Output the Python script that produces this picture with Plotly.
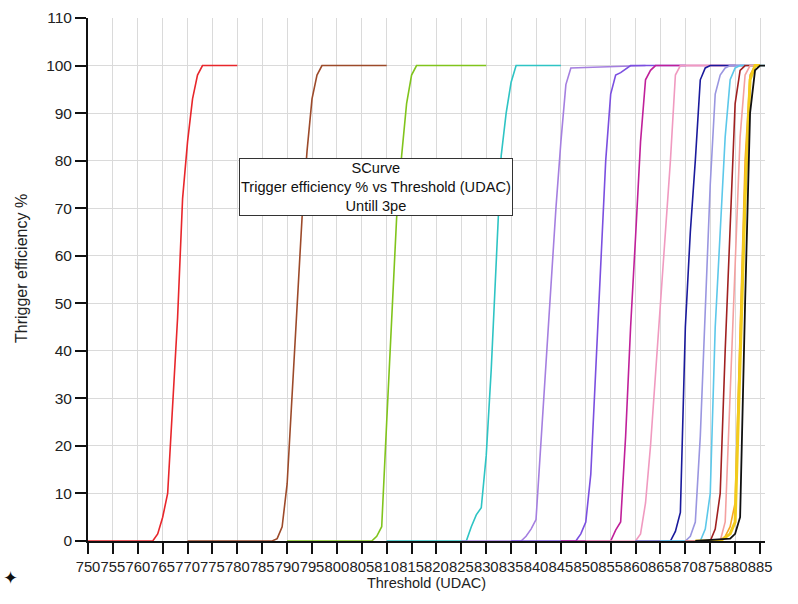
import plotly.graph_objects as go

# ---- data (threshold UDAC, trigger efficiency %) ----
x_red = [750, 763, 764, 765, 766, 767, 768, 769, 770, 771, 772, 773, 780]
y_red = [0, 0, 1.5, 5, 10, 28, 47, 72, 84, 93, 98, 100, 100]

x_brown = [770, 787, 788, 789, 790, 791, 792, 793, 794, 795, 796, 797, 810]
y_brown = [0, 0, 0.5, 3, 12, 30, 50, 68, 82, 93, 98, 100, 100]

x_green = [790, 807, 808, 809, 810, 811, 812, 813, 814, 815, 816, 830]
y_green = [0, 0, 1, 3, 25, 47, 68, 81, 92, 98, 100, 100]

x_cyan = [810, 826, 827, 828, 829, 830, 831, 832, 833, 834, 835, 836, 845]
y_cyan = [0, 0, 3, 5.5, 7, 18, 36, 57, 81, 90, 96.5, 100, 100]

x_lavender = [825, 837, 838, 839, 840, 841, 842, 843, 844, 845, 846, 847, 862]
y_lavender = [0, 0, 1, 2.5, 4.5, 21, 37, 54, 70, 84, 96, 99.5, 100]

x_violet = [835, 848, 849, 850, 851, 852, 853, 854, 855, 856, 857, 858, 859, 870]
y_violet = [0, 0, 1.5, 4, 14, 36, 58, 80, 94, 98, 98.5, 99.3, 100, 100]

x_magenta = [845, 855, 856, 857, 858, 859, 860, 861, 862, 863, 864, 880]
y_magenta = [0, 0, 2.3, 4, 22, 45, 64, 84, 97, 99, 100, 100]

x_pink = [850, 860, 861, 862, 863, 864, 865, 866, 867, 868, 869, 878]
y_pink = [0, 0, 1.5, 8, 20, 35, 49, 64, 80, 98, 100, 100]

x_navy = [860, 867, 868, 869, 870, 871, 872, 873, 874, 875, 882]
y_navy = [0, 0, 2, 6, 45, 65, 80, 97, 99.5, 100, 100]

x_slate = [860, 870, 871, 872, 873, 874, 875, 876, 877, 878, 879, 884]
y_slate = [0, 0, 1, 4, 22, 50, 75, 94, 98, 99.5, 100, 100]

x_sky = [865, 873, 874, 875, 876, 877, 878, 879, 880, 881, 886]
y_sky = [0, 0, 2.5, 10, 45, 65, 85, 97, 99.5, 100, 100]

x_darkred = [870, 875, 876, 877, 878, 879, 880, 881, 882, 885]
y_darkred = [0, 0, 2.5, 10, 40, 67, 92, 99, 100, 100]

x_salmon = [870, 877, 878, 879, 880, 881, 882, 883, 885]
y_salmon = [0, 0, 4, 32, 58, 85, 98, 100, 100]

x_orange = [872, 877, 878, 879, 880, 881, 882, 883, 884, 885]
y_orange = [0, 0, 1, 3, 8, 45, 80, 98, 100, 100]

x_gold = [872, 877, 879, 880, 881, 882, 883, 884, 885]
y_gold = [0, 0, 1.5, 4, 38, 72, 97, 100, 100]

x_black = [872, 879, 880, 881, 882, 883, 884, 885, 886]
y_black = [0, 0.5, 1.5, 5, 50, 90, 99, 100, 100]

x_ticks_start, x_ticks_step = 750, 5
y_ticks_step = 10

x_title = "Threshold (UDAC)"
y_title = "Thrigger efficiency %"
title_lines = ["SCurve", "Trigger efficiency % vs Threshold (UDAC)", "Untill 3pe"]

series = [
    (x_red, y_red, "#e8262b", 1.6),
    (x_brown, y_brown, "#9c4a2a", 1.6),
    (x_green, y_green, "#80c41c", 1.6),
    (x_cyan, y_cyan, "#2ec4c4", 1.6),
    (x_lavender, y_lavender, "#a57fe0", 1.6),
    (x_violet, y_violet, "#7b4fe0", 1.6),
    (x_magenta, y_magenta, "#c0209a", 1.6),
    (x_pink, y_pink, "#f09ac0", 1.6),
    (x_navy, y_navy, "#1a1a9c", 1.6),
    (x_slate, y_slate, "#9a96e0", 1.6),
    (x_sky, y_sky, "#5cc8ea", 1.6),
    (x_darkred, y_darkred, "#a02020", 1.6),
    (x_salmon, y_salmon, "#f4a0a0", 1.6),
    (x_orange, y_orange, "#f5a623", 1.6),
    (x_gold, y_gold, "#f2cc1c", 3.0),
    (x_black, y_black, "#111111", 1.8),
]

fig = go.Figure()
for xs, ys, col, w in series:
    fig.add_trace(go.Scatter(x=xs, y=ys, mode="lines",
                             line=dict(color=col, width=w),
                             showlegend=False, hoverinfo="x+y"))

font_family = "Liberation Sans, Arial, sans-serif"

fig.update_layout(
    width=798, height=604,
    margin=dict(l=88, r=33, t=18, b=63, autoexpand=False),
    paper_bgcolor="white", plot_bgcolor="white",
    font=dict(family=font_family, size=14, color="#222"),
    showlegend=False,
    xaxis=dict(
        range=[750, 886], tick0=x_ticks_start, dtick=x_ticks_step,
        tickangle=0, ticks="outside", ticklen=11, tickwidth=1.5,
        tickcolor="#111", showline=True, linecolor="#111", linewidth=1.8,
        showgrid=True, gridcolor="#dadada", gridwidth=1,
        zeroline=False, layer="below traces", automargin=False,
        tickfont=dict(size=14.8, color="#222"),
        title=dict(text=x_title, font=dict(size=14.5, color="#222"),
                   standoff=3),
    ),
    yaxis=dict(
        range=[0, 110], dtick=y_ticks_step,
        ticks="outside", ticklen=11, tickwidth=1.5, tickcolor="#111",
        showline=True, linecolor="#111", linewidth=1.8,
        showgrid=True, gridcolor="#dadada", gridwidth=1,
        zeroline=False, layer="below traces", automargin=False,
        tickfont=dict(size=15.5, color="#222"),
    ),
)

fig.add_annotation(
    xref="paper", yref="paper", x=-0.0975, y=0.522,
    xanchor="center", yanchor="middle", textangle=-90,
    text=y_title, showarrow=False,
    font=dict(size=16, color="#222", family=font_family),
)

fig.add_annotation(
    xref="paper", yref="paper", x=0.4254, y=0.677,
    xanchor="center", yanchor="middle",
    text="<br>".join(title_lines), showarrow=False,
    align="center", font=dict(size=14.6, color="#111", family=font_family),
    bgcolor="white", bordercolor="#333", borderwidth=1, borderpad=1,
)

fig.add_annotation(
    xref="paper", yref="paper", x=-0.1152, y=-0.0707,
    xanchor="center", yanchor="middle",
    text="\u2726", showarrow=False, font=dict(size=18, color="#111"),
)

fig.write_html("out.html",
               config={"displayModeBar": False},
               post_script="document.body.style.margin='0px';document.body.style.padding='0px';")
